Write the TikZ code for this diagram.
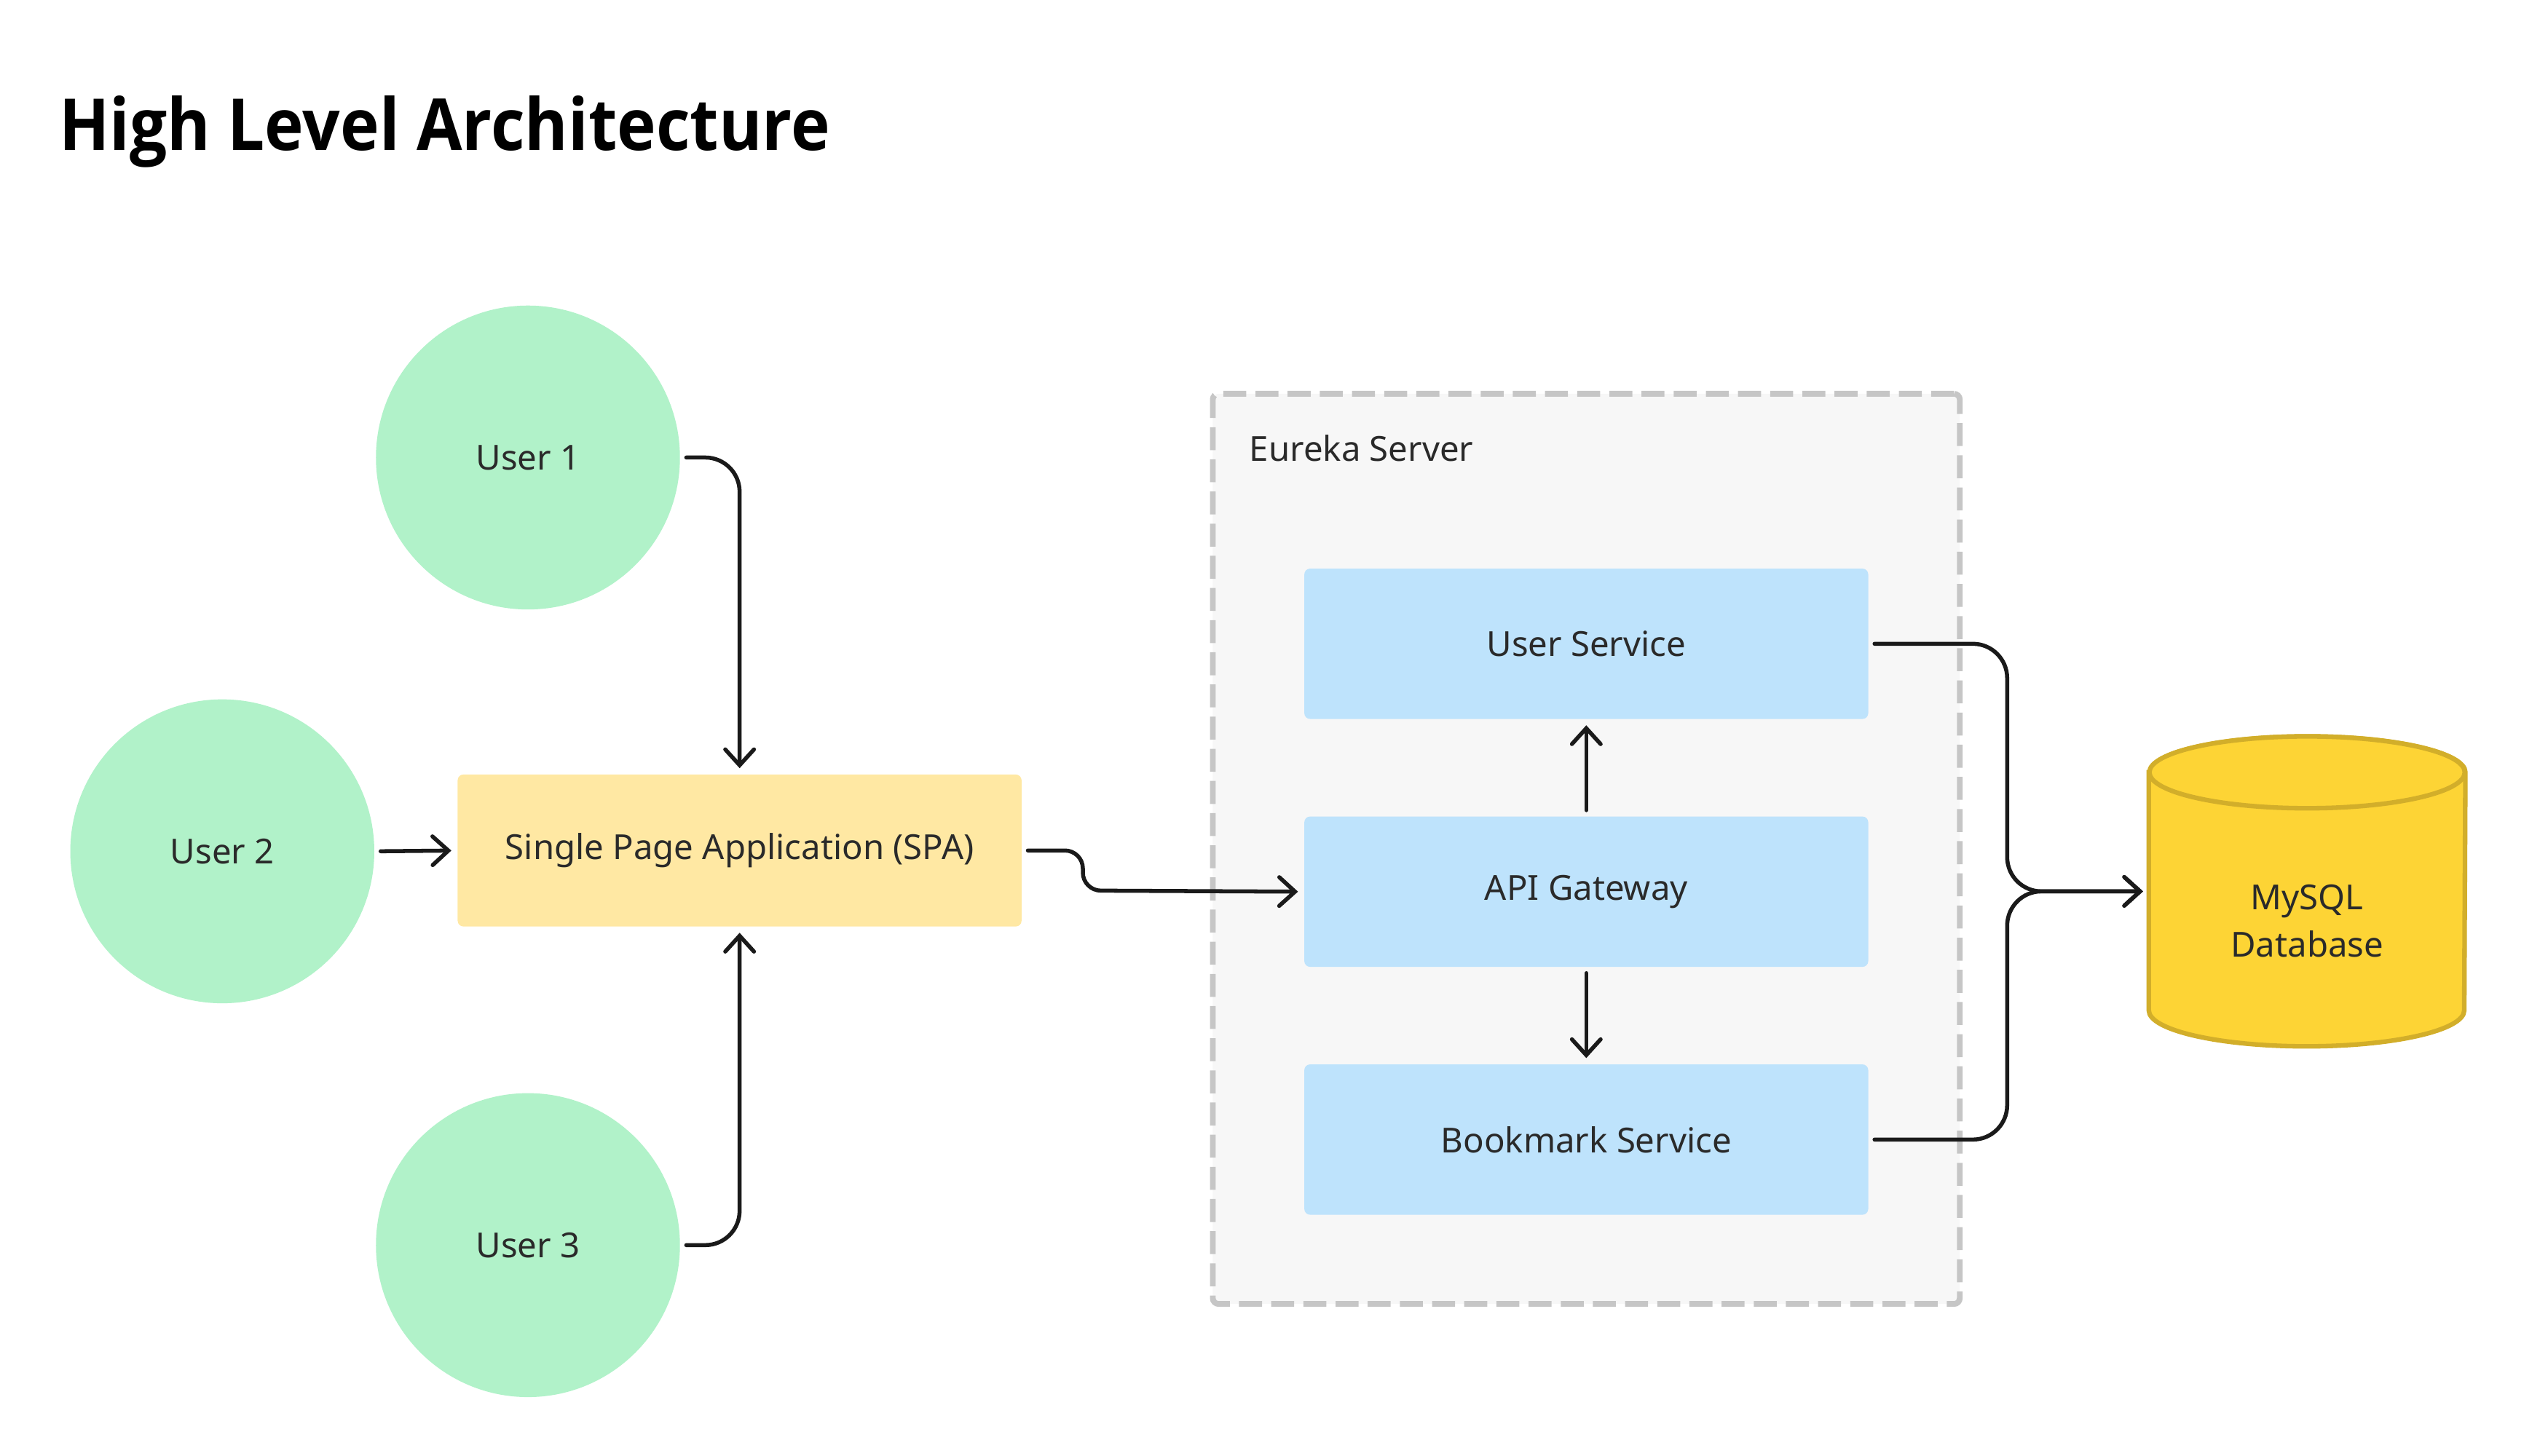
\documentclass[tikz,border=0pt]{standalone}
\usepackage{fontspec}
\setmainfont{Noto Sans}
\newfontfamily\titlefont{Open Sans}[FakeStretch=0.92]
\usetikzlibrary{arrows.meta,positioning}
\definecolor{usergreen}{HTML}{B1F2C9}
\definecolor{appyellow}{HTML}{FFE8A3}
\definecolor{serviceblue}{HTML}{BEE3FC}
\definecolor{clusterfill}{HTML}{F7F7F7}
\definecolor{clustergray}{HTML}{C6C6C6}
\definecolor{dbyellow}{HTML}{FDD435}
\definecolor{dbborder}{HTML}{D2AE2A}
\definecolor{linegray}{HTML}{1A1A1A}
\definecolor{textgray}{HTML}{2A2A2A}

\begin{document}
\begin{tikzpicture}[
   every node/.style={font=\fontsize{12}{16.5}\selectfont, text=textgray},
   user/.style={circle, fill=usergreen, minimum size=3.72cm, inner sep=0pt},
   app/.style={rectangle, rounded corners=2pt, fill=appyellow, minimum width=6.9cm, minimum height=1.86cm},
   service/.style={rectangle, rounded corners=2pt, fill=serviceblue, minimum width=6.9cm, minimum height=1.84cm},
   cluster/.style={rectangle, rounded corners=2pt, draw=clustergray, fill=clusterfill, line width=2pt,
                   dash pattern=on 8pt off 3.2pt, minimum width=9.14cm, minimum height=11.14cm},
   dbbody/.style={draw=dbborder, fill=dbyellow, line width=1.6pt},
   link/.style={draw=linegray, line width=1.4pt, line cap=round,
                -{Straight Barb[length=5.5pt,width=10pt,line cap=round]},
                shorten <=2pt, shorten >=2pt, rounded corners=0.42cm}]

\useasboundingbox (0,0) rectangle (31.08,-17.82);

\node[anchor=base west, font=\titlefont\bfseries\fontsize{25}{30}\selectfont, text=black]
   (title) at (0.60,-1.84) {High Level Architecture};

\node[user] (u1) at (6.46,-5.60) {User 1};
\node[user] (u2) at (2.72,-10.42) {User 2};
\node[user] (u3) at (6.46,-15.24) {User 3};
\node[app] (spa) at (9.05,-10.41) {Single Page Application (SPA)};

\node[cluster] (eureka) at (19.41,-10.39) {};
\node[anchor=west] (eurekalabel) at ([xshift=0.36cm,yshift=-0.7cm]eureka.north west) {Eureka Server};

\node[service] (us) at (19.41,-7.88) {User Service};
\node[service] (api) [below=1.18cm of us] {API Gateway};
\node[service] (bm) [below=1.18cm of api] {Bookmark Service};

\node[minimum width=3.86cm, minimum height=2.9cm, inner sep=0pt] (db) at (28.23,-10.91) {};
\draw[dbbody] (db.north west) -- (db.south west)
   arc[start angle=180, end angle=360, x radius=1.93cm, y radius=0.44cm]
   -- (db.north east)
   arc[start angle=0, end angle=180, x radius=1.93cm, y radius=0.44cm] -- cycle;
\draw[dbbody] (db.north) ellipse[x radius=1.93cm, y radius=0.44cm];
\node[align=center] (dbtext) at ([yshift=-0.36cm]db.center) {MySQL\\Database};

\coordinate (jog) at (13.25,-10.9);
\coordinate (bus) at (24.56,-10.91);

\draw[link] (u1.east) -| (spa.north);
\draw[link] (u2.east) -- (spa.west);
\draw[link] (u3.east) -| (spa.south);
\draw[link, rounded corners=0.22cm] (spa.east) -| (jog) -- (api.west);
\draw[link] (api.north) -- (us.south);
\draw[link] (api.south) -- (bm.north);
\draw[link] (us.east) -| (bus) -- (db.west);
\draw[link] (bm.east) -| (bus) -- (db.west);

\end{tikzpicture}
\end{document}
